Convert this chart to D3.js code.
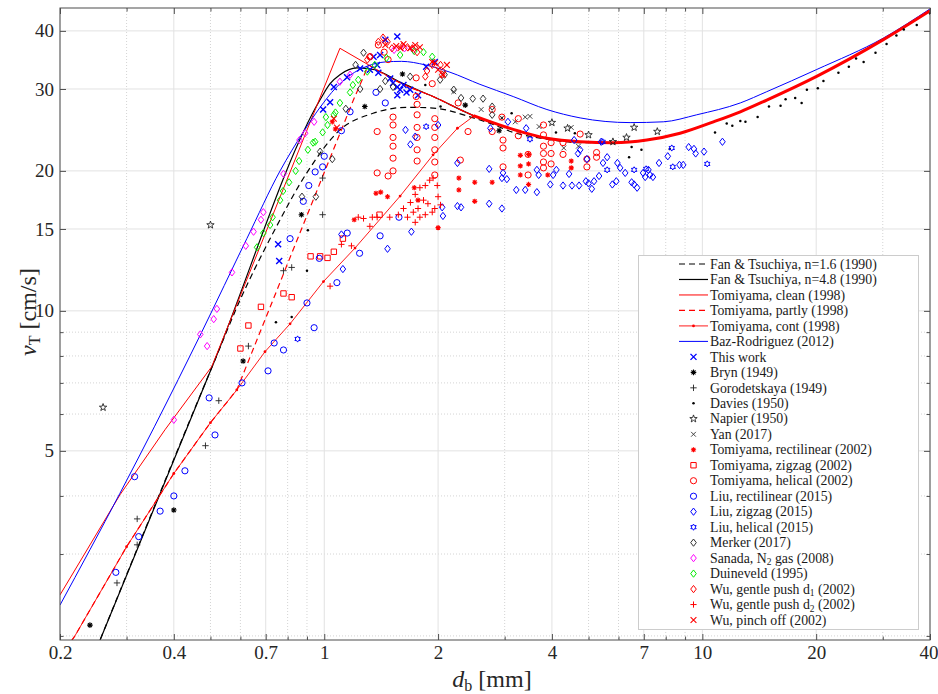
<!DOCTYPE html>
<html>
<head>
<meta charset="utf-8">
<script src="https://cdn.jsdelivr.net/npm/d3@7"></script>
<style>
  body { margin: 0; background: #fff; }
  svg { display: block; font-family: "Liberation Serif", "DejaVu Serif", serif; }
</style>
</head>
<body>
<svg id="chart" width="938" height="694"></svg>
<script>
// all values are [d_b in mm, v_T in cm/s]

// ---- model curves
const tomiyamaEo = [[1.10,36.7],[1.31,33.8],[1.59,30.9],[1.94,28.9],[2.48,26.3],[3.30,24.3],[3.88,23.5],[4.75,23.1],[5.81,23.0],[7.13,23.3],[8.73,24.1],[10.7,25.5],[12.6,26.8],[14.8,28.4],[20.0,31.9],[30.1,38.3],[40,44.2]];
const tomiyamaCleanRise = [[0.2,2.45],[0.288,4.02],[0.379,5.55],[0.504,7.59],[1.10,36.7]];
const tomiyamaPartlyRise = [[0.2,1.8],[0.219,2.0],[0.30,3.11],[0.40,4.47],[0.50,5.75],[0.587,6.76],[1.194,28.4],[1.31,33.8]];
const tomiyamaContRise = [[0.2,1.8],[0.219,2.0],[0.30,3.11],[0.40,4.47],[0.50,5.75],[0.587,6.76],[0.697,8.17],[0.812,9.38],[0.995,11.56],[1.206,13.65],[1.587,17.65],[1.94,21.65],[2.25,24.7],[2.48,26.2]];
const fan48 = [[0.25,1.88],[0.514,7.85],[0.974,28.4],[1.036,30.8],[1.10,32.2],[1.22,33.3],[1.36,33.0],[1.59,31.0],[1.94,28.9],[2.48,26.3],[3.30,24.3],[3.88,23.5],[4.75,23.1],[5.81,23.0],[7.13,23.3],[8.73,24.1],[10.7,25.5],[12.6,26.8],[14.8,28.4],[20.0,31.9],[30.1,38.3],[40,44.2]];
const fan16 = [[0.25,1.88],[0.514,7.85],[0.599,10.56],[0.732,14.7],[0.899,19.8],[1.10,24.5],[1.346,26.6],[1.653,27.4],[1.94,27.3],[2.48,26.0],[2.75,25.3],[3.16,24.2],[3.88,23.4],[4.75,23.0],[5.81,23.0],[7.13,23.3],[8.73,24.1],[10.7,25.5],[12.6,26.8],[14.8,28.4],[20.0,31.9],[30.1,38.3],[40,44.2]];
const bazRodriguez = [[0.2,2.33],[0.288,4.05],[0.356,5.65],[0.474,9.0],[0.624,14.3],[0.764,20.0],[0.879,24.2],[0.975,27.4],[1.07,30.1],[1.17,32.1],[1.30,33.6],[1.45,34.3],[1.60,34.4],[1.85,33.8],[2.15,32.6],[2.58,30.7],[3.16,28.9],[3.88,27.1],[4.75,26.0],[6.44,25.4],[7.88,25.5],[9.66,26.4],[12.6,28.0],[14.8,29.6],[20.0,33.0],[30.1,38.6],[40,44.6]];

// ---- measurements
const thisWork = [[0.755,13.9],[0.76,12.8],[0.993,27.1],[1.036,28.1],[1.06,30.3],[1.149,31.8],[1.244,33.2],[1.32,33.0],[1.35,35.2],[1.38,33.8],[1.39,32.5],[1.405,35.5],[1.45,38.3],[1.494,31.6],[1.52,30.9],[1.56,38.9],[1.56,30.3],[1.56,29.1],[1.587,29.9],[1.62,30.6],[1.65,29.5],[1.687,29.9],[1.77,29.1],[1.86,33.5],[1.96,34.3]];
const bryn = [[0.24,2.11],[0.40,3.73],[0.61,7.8],[0.87,16.1],[1.28,27.5],[1.61,32.3],[2.36,27.7],[2.9,24.4]];
const gorodetskaya = [[0.283,2.60],[0.32,3.57],[0.32,3.14],[0.485,5.13],[0.526,6.41],[0.63,8.4],[0.78,12.2],[0.82,12.4],[0.99,19.3],[0.99,16.1]];
const davies = [[0.745,9.45],[0.82,9.7],[0.90,12.2],[0.905,14.9],[1.85,30.6],[2.03,27.5],[2.95,26.0],[3.13,26.6],[4.1,24.2],[4.6,24.1],[6.4,21.4],[6.5,22.5],[6.9,22.2],[8.2,22.3],[10.8,24.2],[11.6,25.3],[12.0,25.0],[12.6,25.6],[13.0,25.5],[14.0,26.1],[15.0,27.5],[16.1,27.6],[16.6,28.5],[17.6,28.7],[18.3,28.0],[18.9,29.9],[20.2,30.1],[20.9,31.2],[22.9,32.5],[24.4,33.5],[25.5,34.9],[26.7,34.3],[28.7,35.9],[30.7,37.5],[32.6,39.1],[34.1,40.3],[36.9,41.2],[40,43.6]];
const napier = [[0.26,6.2],[0.50,15.3],[4.0,25.4],[4.4,24.7],[5.0,23.9],[5.8,23.1],[6.3,23.6],[6.6,24.8],[7.6,24.3]];
const yan = [[2.2,29.6],[2.6,27.1],[2.95,26.0],[3.2,25.5],[3.4,26.1],[3.5,26.2],[3.7,24.9],[4.3,22.4],[4.5,24.8],[4.7,22.6]];
const tomRect = [[1.05,25.5],[1.07,24.6],[1.2,15.7],[1.37,17.9],[1.41,18.0],[1.47,17.6],[1.73,18.4],[1.77,17.3],[2.0,15.1],[2.27,19.3],[2.27,18.2],[2.5,18.9],[2.5,17.2],[2.78,18.9],[3.3,21.6],[3.3,20.5],[3.3,19.6],[3.47,21.7],[3.47,20.7],[3.47,18.7],[3.9,19.6],[4.5,21.0],[4.5,20.3]];
const tomZig = [[0.60,8.3],[0.63,9.3],[0.68,10.2],[0.78,10.9],[0.82,10.7],[0.92,13.1],[0.975,13.1],[1.02,13.0],[1.06,13.4],[1.12,14.3],[1.4,16.1]];
const tomHel = [[1.38,24.3],[1.38,19.8],[1.475,19.5],[1.52,26.1],[1.52,25.1],[1.52,23.6],[1.52,22.6],[1.52,21.3],[1.52,20.0],[1.75,31.7],[1.75,28.9],[1.76,27.8],[1.76,26.4],[1.76,24.8],[1.76,23.6],[1.76,22.2],[1.76,21.0],[1.93,30.8],[1.96,25.9],[1.96,24.8],[1.96,23.6],[1.96,22.2],[1.96,20.9],[1.96,19.6],[2.78,27.1],[2.78,24.3],[2.95,26.1],[2.97,23.3],[2.97,22.4],[2.97,20.4],[3.26,25.9],[3.26,23.8],[3.46,21.7],[3.46,19.6],[3.80,25.1],[3.80,23.9],[3.80,22.6],[3.80,21.8],[3.80,20.9],[3.80,20.3],[3.98,23.0],[3.98,21.8],[3.98,20.7],[4.28,23.0],[4.28,21.7],[4.75,24.0],[4.95,21.2],[4.95,20.4],[5.25,21.9],[5.25,21.4],[1.32,35.2],[1.39,37.3],[1.44,36.0],[1.475,34.7],[2.26,28.0],[2.40,24.3],[2.29,21.1]];
const liuRect = [[0.281,2.74],[0.315,4.40],[0.323,3.27],[0.368,3.71],[0.40,4.0],[0.428,4.53],[0.496,6.5],[0.514,5.41],[0.606,7.0],[0.71,7.43],[0.737,8.53],[0.78,8.24],[0.812,14.3],[0.88,17.2],[0.90,10.4],[0.91,18.6],[0.94,9.2],[0.946,19.9],[0.97,12.97],[0.99,20.4],[1.0,21.5],[1.08,11.5],[1.11,24.4],[1.15,14.7],[1.17,26.8],[1.24,13.3],[1.37,29.5],[1.405,14.5],[1.45,28.0],[1.576,15.9]];
const liuZig = [[1.12,12.3],[1.11,14.6],[1.47,13.6],[1.70,14.8],[2.05,16.7],[2.06,16.0],[1.64,24.5],[1.69,22.8],[1.74,23.7],[2.0,25.1],[2.25,20.8],[2.25,16.8],[2.3,16.7],[2.73,20.2],[2.73,17.0],[2.75,24.7],[2.95,16.6],[2.95,19.3],[2.97,19.8],[3.04,19.2],[3.06,25.5],[3.22,18.2],[3.40,18.2],[3.42,24.7],[3.65,18.0],[3.65,20.1],[3.69,19.6],[3.96,18.7],[4.03,19.6],[4.11,20.1],[4.28,18.6],[4.44,19.7],[4.52,18.6],[4.58,23.3],[4.69,21.8],[4.72,18.6],[4.75,22.2],[4.92,19.0],[4.95,21.2],[5.0,18.8],[5.1,18.3],[5.17,19.0],[5.33,19.5],[5.4,23.1],[5.46,20.8],[5.6,21.4],[5.78,18.7],[5.92,19.0],[5.96,20.8],[6.06,20.3],[6.25,19.8],[6.5,18.9],[6.6,18.7],[6.72,18.4],[6.97,19.8],[7.06,19.4],[7.2,20.1],[7.27,19.6],[7.4,19.4],[7.68,20.8],[8.1,21.5],[8.7,20.6],[8.9,20.6],[9.2,22.5],[9.5,22.3],[9.6,21.8],[10.1,22.0],[11.3,23.1]];
const liuHel = [[0.85,8.7],[1.86,24.9],[3.5,23.4],[5.45,23.1],[5.6,20.1],[6.6,20.1],[7.1,20.2],[8.3,22.4],[8.35,20.4],[10.3,20.7]];
const merker = [[0.873,17.6],[0.95,17.6],[0.975,22.0],[1.05,21.2],[1.14,27.2],[1.21,33.8],[1.244,30.0],[1.27,35.9],[1.405,30.0],[1.45,31.2],[1.52,30.3],[1.687,31.9],[2.025,31.4],[2.08,32.2],[2.2,29.9],[2.3,28.7],[2.47,28.6],[2.63,28.6],[2.78,27.5],[2.78,26.4]];
const sanada = [[0.4,5.83],[0.47,8.9],[0.49,8.4],[0.51,9.6],[0.52,10.1],[0.57,12.1],[0.62,13.8],[0.65,14.8],[0.68,15.7],[0.69,16.3],[0.78,19.7],[0.86,23.3],[0.89,24.1],[0.94,25.5],[1.1,31.1],[1.17,32.2],[1.53,36.4],[1.63,36.7],[1.72,36.4]];
const duineveld = [[0.664,13.7],[0.69,14.7],[0.719,15.3],[0.73,15.9],[0.764,17.3],[0.778,18.1],[0.807,18.9],[0.84,20.0],[0.858,21.0],[0.905,22.2],[0.934,23.0],[0.946,23.1],[0.99,24.2],[1.02,25.1],[1.06,26.4],[1.01,26.1],[1.07,26.7],[1.10,28.0],[1.17,29.5],[1.19,30.6],[1.23,31.4],[1.30,32.7],[1.36,33.8],[1.46,35.0],[1.587,35.5],[1.73,36.2],[1.83,36.0],[1.93,35.2]];
const wuD1 = [[1.30,34.7],[1.32,35.2],[1.39,37.9],[1.43,38.7],[1.47,37.9],[1.51,36.7],[1.61,37.1],[1.66,36.9],[1.71,36.7],[1.76,36.0],[1.85,31.9],[1.87,32.8],[1.93,33.8],[2.03,33.8],[2.06,32.7],[2.05,32.2]];
const wuD2 = [[1.036,11.3],[1.11,13.9],[1.18,13.8],[1.23,15.9],[1.27,15.8],[1.32,15.2],[1.34,15.9],[1.38,15.9],[1.49,15.9],[1.57,16.1],[1.62,16.6],[1.66,15.9],[1.69,17.1],[1.72,16.3],[1.74,17.8],[1.74,15.5],[1.77,16.6],[1.79,18.4],[1.79,15.9],[1.83,17.3],[1.85,18.6],[1.85,16.1],[1.88,17.0],[1.9,19.1],[1.93,16.3],[1.94,19.3],[1.96,16.6],[1.99,18.6],[2.0,17.6],[2.03,16.9]];
const wuPinch = [[1.06,25.9],[1.08,24.8],[1.45,37.3],[1.55,37.1],[1.59,36.7],[1.62,37.5],[1.69,36.7],[1.74,37.3],[1.79,36.9],[1.93,34.3],[1.96,34.1],[2.06,32.2],[2.11,33.8],[2.0,33.0]];

// ---- axes
const xTicks = [0.2, 0.4, 0.7, 1, 2, 4, 7, 10, 20, 40];
const xMinor = [0.3, 0.5, 0.6, 0.8, 0.9, 3, 5, 6, 8, 9, 30];
const yTicks = [5, 10, 15, 20, 30, 40];
const yMinor = [2, 3, 4, 6, 7, 8, 9];

const padLeft = 60, padRight = 930, padTop = 8, padBottom = 640;
const svg = d3.select("#chart");

const x = d3.scaleLog().domain([0.2, 40]).range([padLeft, padRight]);
const y = d3.scaleLog().domain([1.96, 44.8]).range([padBottom, padTop]);

svg.append("defs").append("clipPath").attr("id", "plot-clip")
  .append("rect").attr("x", padLeft).attr("y", padTop)
  .attr("width", padRight - padLeft).attr("height", padBottom - padTop);

// grid
const grid = svg.append("g");
grid.selectAll(".gxm").data(xMinor).join("line")
  .attr("x1", d => x(d)).attr("x2", d => x(d)).attr("y1", padTop).attr("y2", padBottom)
  .attr("stroke", "#d4d4d4").attr("stroke-dasharray", "1,2");
grid.selectAll(".gym").data(yMinor).join("line")
  .attr("y1", d => y(d)).attr("y2", d => y(d)).attr("x1", padLeft).attr("x2", padRight)
  .attr("stroke", "#d4d4d4").attr("stroke-dasharray", "1,2");
grid.selectAll(".gx").data(xTicks).join("line")
  .attr("x1", d => x(d)).attr("x2", d => x(d)).attr("y1", padTop).attr("y2", padBottom)
  .attr("stroke", "#e2e2e2");
grid.selectAll(".gy").data(yTicks).join("line")
  .attr("y1", d => y(d)).attr("y2", d => y(d)).attr("x1", padLeft).attr("x2", padRight)
  .attr("stroke", "#e2e2e2");

// ---- curves
const plotArea = svg.append("g").attr("clip-path", "url(#plot-clip)");
const straight = d3.line().x(d => x(d[0])).y(d => y(d[1]));
const smooth = d3.line().x(d => x(d[0])).y(d => y(d[1])).curve(d3.curveMonotoneX);

function tomiyamaPath(rise) {
  const last = rise[rise.length - 1][0];
  const tail = tomiyamaEo.filter(d => d[0] >= last);
  return straight(rise) + smooth(tail);
}

const curves = [
  { name: "Fan & Tsuchiya, n=1.6 (1990)", path: smooth(fan16), color: "#000", dash: "6,4", width: 1.2 },
  { name: "Fan & Tsuchiya, n=4.8 (1990)", path: smooth(fan48), color: "#000", dash: null, width: 1.2 },
  { name: "Tomiyama, clean (1998)", path: tomiyamaPath(tomiyamaCleanRise), color: "#ff0000", dash: null, width: 1 },
  { name: "Tomiyama, partly (1998)", path: tomiyamaPath(tomiyamaPartlyRise), color: "#ff0000", dash: "6,4", width: 1.2 },
  { name: "Tomiyama, cont (1998)", path: tomiyamaPath(tomiyamaContRise), color: "#ff0000", dash: null, width: 0.9, dots: true },
  { name: "Baz-Rodriguez (2012)", path: smooth(bazRodriguez), color: "#0000ff", dash: null, width: 1 }
];

curves.forEach(c => {
  plotArea.append("path").attr("d", c.path).attr("fill", "none")
    .attr("stroke", c.color).attr("stroke-width", c.width)
    .attr("stroke-dasharray", c.dash);
});

// the cont markers are packed so tightly at large d that they merge into a thick band
plotArea.append("path")
  .attr("d", smooth(tomiyamaEo.filter(d => d[0] >= 2.48)))
  .attr("fill", "none").attr("stroke", "#ff0000").attr("stroke-width", 3);
plotArea.selectAll(".contdot").data(tomiyamaContRise.filter(d => d[0] > 0.25)).join("circle")
  .attr("cx", d => x(d[0])).attr("cy", d => y(d[1])).attr("r", 1.4).attr("fill", "#ff0000");

// ---- markers
function star(n, rOut, rIn) {
  let p = "";
  for (let i = 0; i < 2 * n; i++) {
    const r = i % 2 ? rIn : rOut;
    const a = -Math.PI / 2 + i * Math.PI / n;
    p += (i ? "L" : "M") + (r * Math.cos(a)).toFixed(2) + "," + (r * Math.sin(a)).toFixed(2);
  }
  return p + "Z";
}

function markerPath(type, s) {
  const k = s * 0.72;
  switch (type) {
    case "x": return `M${-s},${-s}L${s},${s}M${-s},${s}L${s},${-s}`;
    case "+": return `M${-s},0L${s},0M0,${-s}L0,${s}`;
    case "*": return `M${-s},0L${s},0M0,${-s}L0,${s}M${-k},${-k}L${k},${k}M${-k},${k}L${k},${-k}`;
    case "o": return `M${s},0A${s},${s} 0 1,1 ${-s},0A${s},${s} 0 1,1 ${s},0Z`;
    case "s": return `M${-s},${-s}H${s}V${s}H${-s}Z`;
    case "d": return `M0,${-s * 1.3}L${s},0L0,${s * 1.3}L${-s},0Z`;
    case "p": return star(5, s * 1.25, s * 0.5);
    case "h": return star(6, s * 1.15, s * 0.66);
    case ".": return `M${s},0A${s},${s} 0 1,1 ${-s},0A${s},${s} 0 1,1 ${s},0Z`;
  }
}

const scatter = [
  { name: "This work", data: thisWork, m: "x", color: "#0000ff", s: 3, w: 1.4 },
  { name: "Bryn (1949)", data: bryn, m: "*", color: "#000", s: 2.8, w: 1.1 },
  { name: "Gorodetskaya (1949)", data: gorodetskaya, m: "+", color: "#222", s: 3.2, w: 0.9 },
  { name: "Davies (1950)", data: davies, m: ".", color: "#000", s: 1.25, w: 0 },
  { name: "Napier (1950)", data: napier, m: "p", color: "#222", s: 3.1, w: 0.9 },
  { name: "Yan (2017)", data: yan, m: "x", color: "#333", s: 2.4, w: 0.9 },
  { name: "Tomiyama, rectilinear (2002)", data: tomRect, m: "*", color: "#ff0000", s: 2.6, w: 1.1 },
  { name: "Tomiyama, zigzag (2002)", data: tomZig, m: "s", color: "#ff0000", s: 2.7, w: 1 },
  { name: "Tomiyama, helical (2002)", data: tomHel, m: "o", color: "#ff0000", s: 3.1, w: 1 },
  { name: "Liu, rectilinear (2015)", data: liuRect, m: "o", color: "#0000ff", s: 3.1, w: 1 },
  { name: "Liu, zigzag (2015)", data: liuZig, m: "d", color: "#0000ff", s: 2.8, w: 1 },
  { name: "Liu, helical (2015)", data: liuHel, m: "h", color: "#0000ff", s: 2.7, w: 1 },
  { name: "Merker (2017)", data: merker, m: "d", color: "#333", s: 2.8, w: 1 },
  { name: "Sanada, N_2 gas (2008)", data: sanada, m: "d", color: "#ff00ff", s: 2.8, w: 1 },
  { name: "Duineveld (1995)", data: duineveld, m: "d", color: "#00ee00", s: 2.8, w: 1 },
  { name: "Wu, gentle push d_1 (2002)", data: wuD1, m: "d", color: "#ff0000", s: 2.8, w: 1 },
  { name: "Wu, gentle push d_2 (2002)", data: wuD2, m: "+", color: "#ff0000", s: 3.1, w: 1 },
  { name: "Wu, pinch off (2002)", data: wuPinch, m: "x", color: "#ff0000", s: 2.9, w: 1.1 }
];

function drawMarker(sel, sr) {
  sel.attr("d", markerPath(sr.m, sr.s))
    .attr("fill", sr.m === "." ? sr.color : "none")
    .attr("stroke", sr.m === "." ? "none" : sr.color)
    .attr("stroke-width", sr.w);
}

scatter.forEach(sr => {
  plotArea.append("g").selectAll("path").data(sr.data).join("path")
    .attr("transform", d => `translate(${x(d[0])},${y(d[1])})`)
    .call(drawMarker, sr);
});

// ---- frame and ticks
const axes = svg.append("g").attr("color", "#262626");
const fmt = d => String(d);
function tickAxis(axisFn, vals, size, translate, labels) {
  const a = axisFn.tickValues(vals).tickSize(-size).tickPadding(labels ? 6 : 0)
    .tickFormat(labels ? fmt : "");
  const g = axes.append("g").attr("transform", translate).call(a);
  g.select(".domain").remove();
  g.selectAll("line").attr("stroke-width", 0.8);
  g.selectAll("text").style("font-size", "19px").attr("fill", "#262626")
    .style("font-family", "'Liberation Serif', serif");
  return g;
}
const xLab = tickAxis(d3.axisBottom(x), xTicks, 6, `translate(0,${padBottom})`, true);
// the last label sits against the window's right edge
xLab.selectAll("text").filter(d => d === 40).attr("text-anchor", "end").attr("dx", 8);
tickAxis(d3.axisBottom(x), xMinor, 3.5, `translate(0,${padBottom})`, false);
tickAxis(d3.axisTop(x), xTicks, 6, `translate(0,${padTop})`, false);
tickAxis(d3.axisTop(x), xMinor, 3.5, `translate(0,${padTop})`, false);
tickAxis(d3.axisLeft(y), yTicks, 6, `translate(${padLeft},0)`, true);
tickAxis(d3.axisLeft(y), yMinor, 3.5, `translate(${padLeft},0)`, false);
tickAxis(d3.axisRight(y), yTicks, 6, `translate(${padRight},0)`, false);
tickAxis(d3.axisRight(y), yMinor, 3.5, `translate(${padRight},0)`, false);

svg.append("rect").attr("x", padLeft).attr("y", padTop)
  .attr("width", padRight - padLeft).attr("height", padBottom - padTop)
  .attr("fill", "none").attr("stroke", "#4d4d4d").attr("stroke-width", 1);

// axis titles
const xt = svg.append("text").attr("x", 492).attr("y", 687)
  .attr("text-anchor", "middle").style("font-size", "24px").attr("fill", "#262626");
xt.append("tspan").text("d").style("font-style", "italic");
xt.append("tspan").text("b").attr("dy", 4).style("font-size", "16px");
xt.append("tspan").text(" [mm]").attr("dy", -4);

const yt = svg.append("text").attr("transform", "translate(36,312) rotate(-90)")
  .attr("text-anchor", "middle").style("font-size", "24px").attr("fill", "#262626");
yt.append("tspan").text("v").style("font-style", "italic");
yt.append("tspan").text("T").attr("dy", 4).style("font-size", "16px");
yt.append("tspan").text(" [cm/s]").attr("dy", -4);

// ---- legend
const legend = svg.append("g");
legend.append("rect").attr("x", 638.5).attr("y", 255.5).attr("width", 280).attr("height", 374)
  .attr("fill", "#fff").attr("stroke", "#cccccc").attr("stroke-width", 1);

const rowY = i => 264 + i * 15.48;
function label(g, name, yy) {
  const t = g.append("text").attr("x", 710).attr("y", yy).attr("dy", "0.34em")
    .style("font-size", "13.8px").attr("fill", "#1a1a1a");
  name.split(/_(\w)/).forEach((part, i) => {
    if (i % 2) t.append("tspan").text(part).attr("dy", 2.5).style("font-size", "9.5px");
    else if (i > 0) t.append("tspan").text(part).attr("dy", -2.5);
    else t.append("tspan").text(part);
  });
}

curves.forEach((c, i) => {
  const yy = rowY(i);
  legend.append("line").attr("x1", 679).attr("x2", 708).attr("y1", yy).attr("y2", yy)
    .attr("stroke", c.color).attr("stroke-width", c.width)
    .attr("stroke-dasharray", c.dash);
  if (c.dots) legend.append("circle").attr("cx", 693.5).attr("cy", yy).attr("r", 1.4).attr("fill", c.color);
  label(legend, c.name, yy);
});
scatter.forEach((sr, j) => {
  const yy = rowY(curves.length + j);
  legend.append("path").attr("transform", `translate(693.5,${yy})`).call(drawMarker, sr);
  label(legend, sr.name, yy);
});
</script>
</body>
</html>
